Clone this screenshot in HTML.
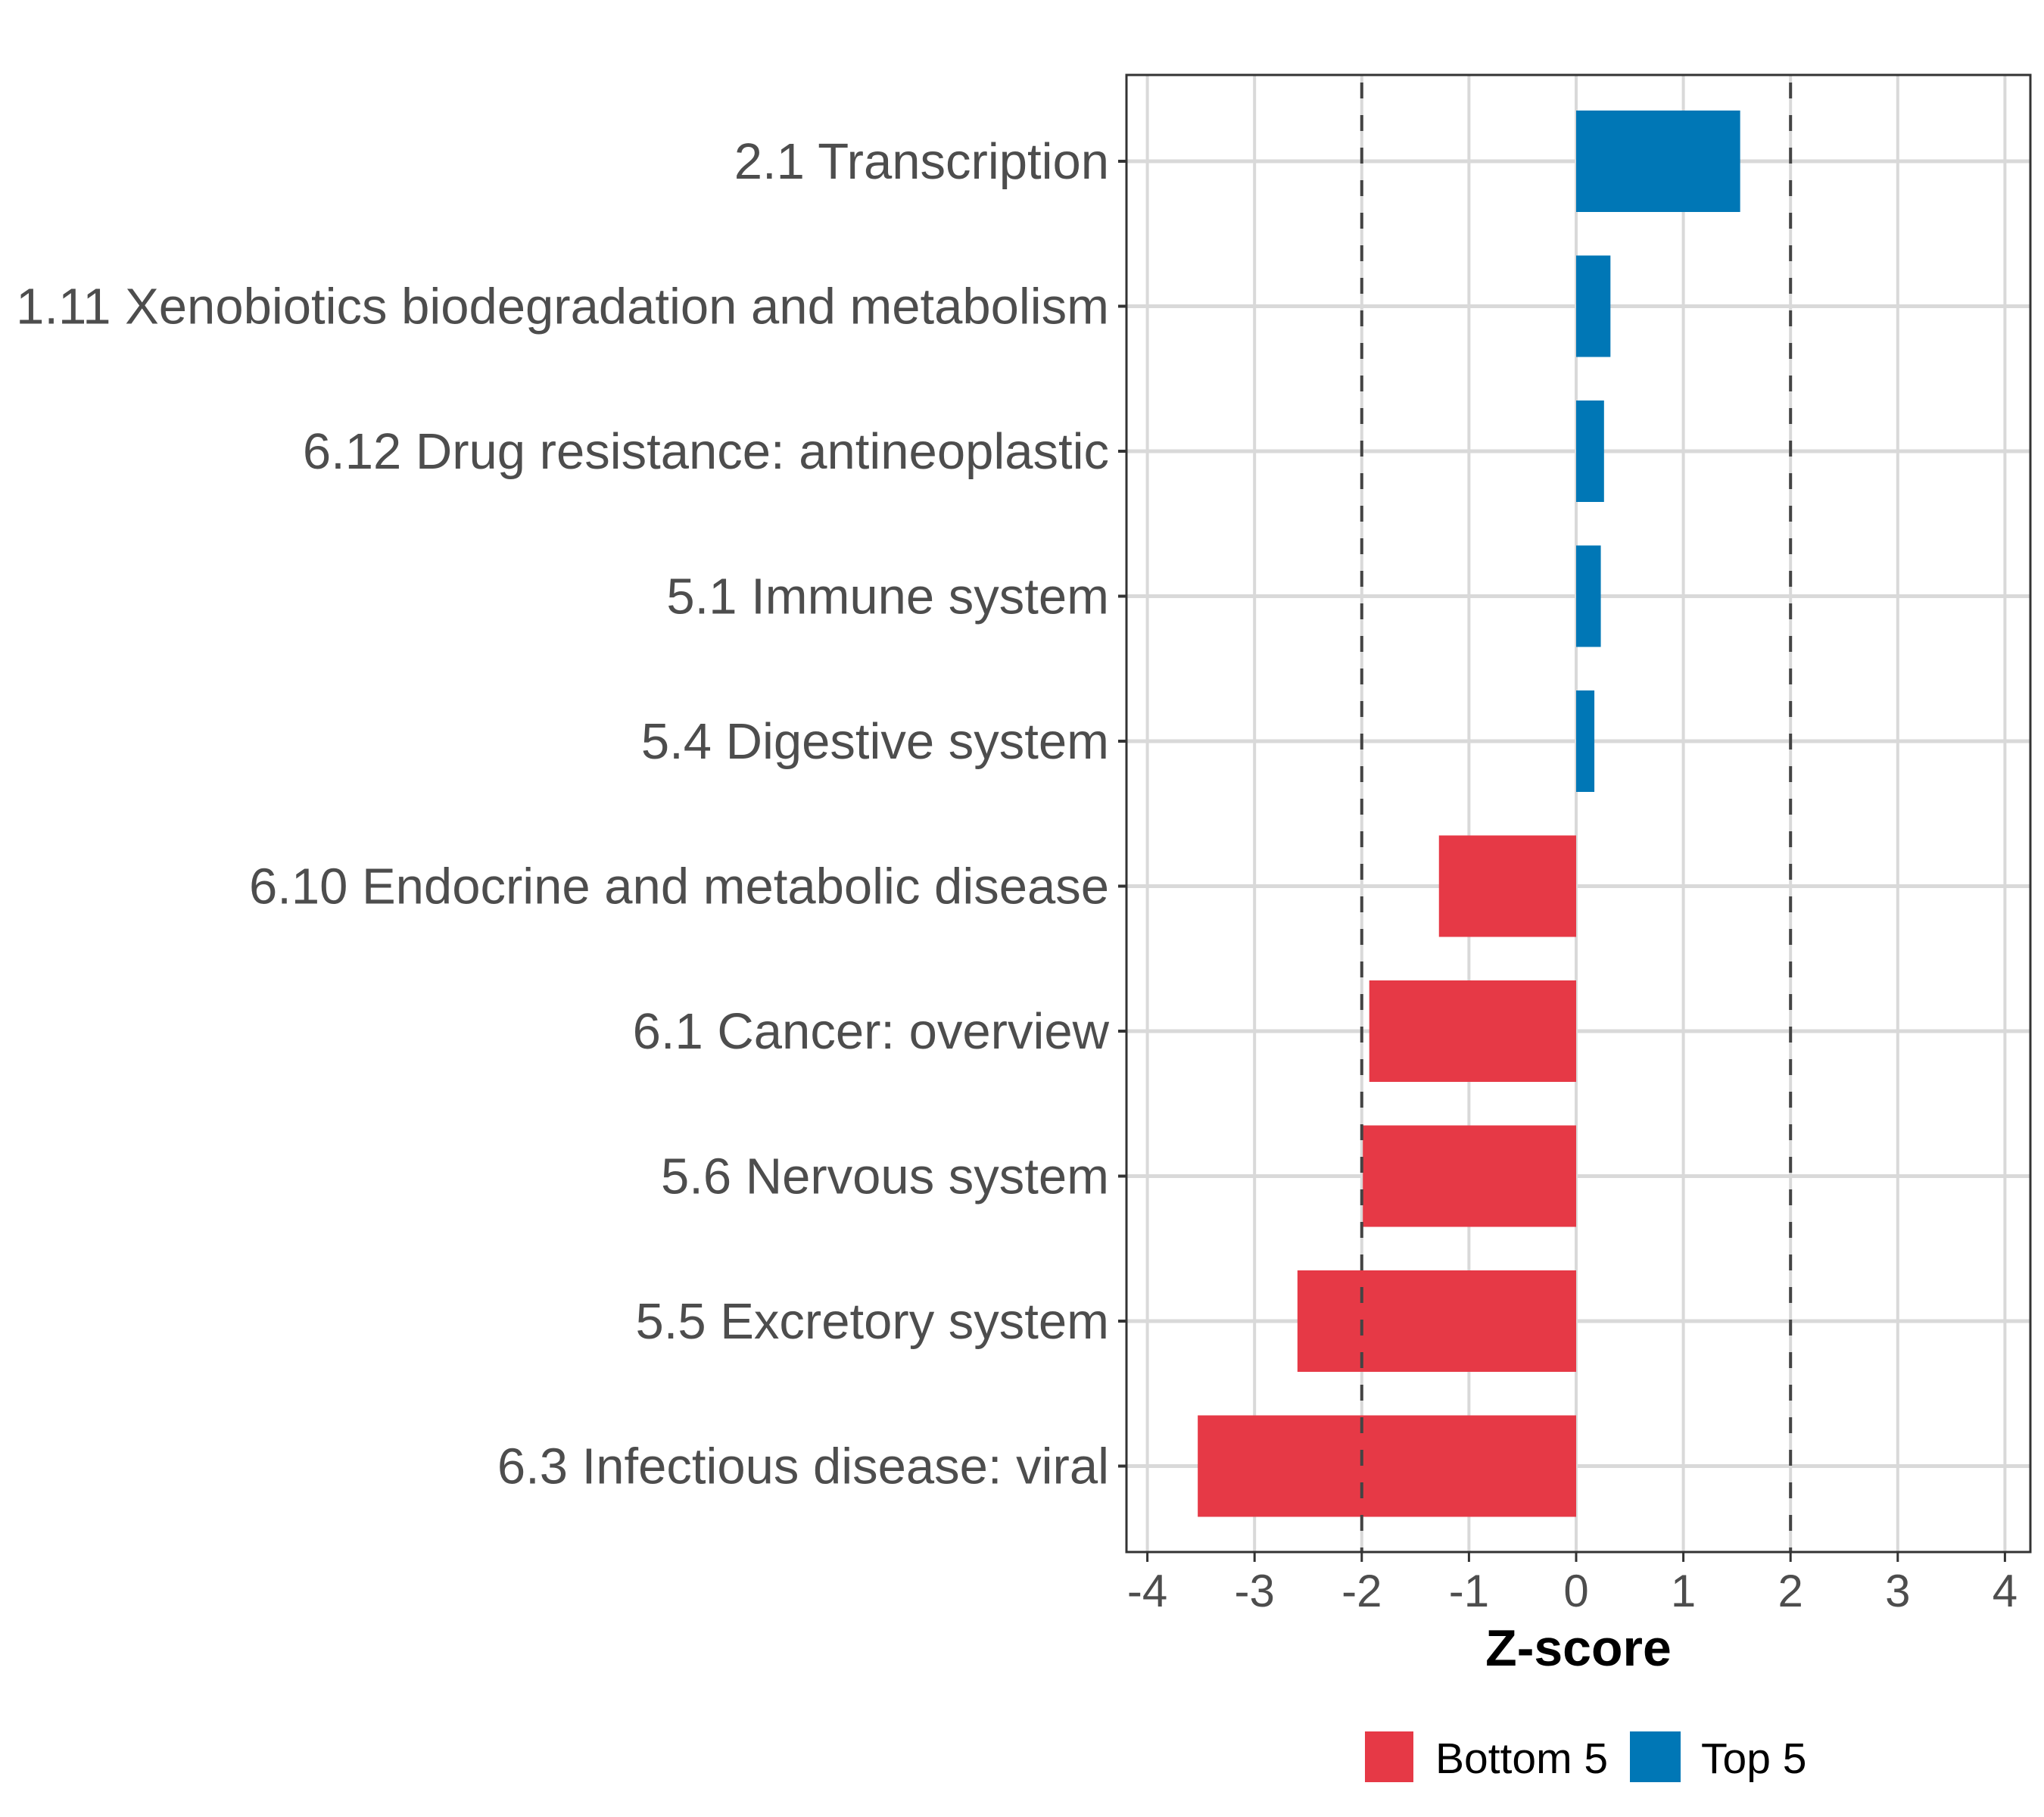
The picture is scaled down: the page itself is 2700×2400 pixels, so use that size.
<!DOCTYPE html>
<html><head><meta charset="utf-8"><style>
body{margin:0;background:#fff}
svg{display:block;font-family:"Liberation Sans",Arial,sans-serif}
</style></head><body>
<svg id="chart" width="2700" height="2400" viewBox="0 0 2700 2400" xmlns="http://www.w3.org/2000/svg">
<rect width="2700" height="2400" fill="#fff"/>
<g id="grid"></g>
<g id="bars"></g>
<g id="refs"></g>
<rect x="1488" y="99" width="1194" height="1951" fill="none" stroke="#333" stroke-width="3"/>
<g id="xaxis"></g>
<g id="yaxis"></g>
<text x="2085" y="2200" font-size="68" font-weight="bold" text-anchor="middle" fill="#000">Z-score</text>
<g>
<rect x="1803" y="2287" width="64" height="67" fill="#E63946"/>
<text x="1896" y="2342" font-size="57" fill="#000">Bottom 5</text>
<rect x="2153" y="2287" width="67" height="67" fill="#0077B6"/>
<text x="2247" y="2342" font-size="57" fill="#000">Top 5</text>
</g>
</svg>
<script>
const categories = ["2.1 Transcription","1.11 Xenobiotics biodegradation and metabolism","6.12 Drug resistance: antineoplastic","5.1 Immune system","5.4 Digestive system","6.10 Endocrine and metabolic disease","6.1 Cancer: overview","5.6 Nervous system","5.5 Excretory system","6.3 Infectious disease: viral"];
const zscores = [1.53,0.32,0.26,0.23,0.17,-1.28,-1.93,-1.99,-2.6,-3.53];
const groups = ["Top 5","Top 5","Top 5","Top 5","Top 5","Bottom 5","Bottom 5","Bottom 5","Bottom 5","Bottom 5"];
const xTicks = [-4,-3,-2,-1,0,1,2,3,4];
const thresholds = [-2,2];

const NS="http://www.w3.org/2000/svg";
const X0=1488,X1=2682,Y0=99,Y1=2050;
function xs(v){return 2082+v*141.6;}
function ys(i){return 213+i*191.5;}
const bandH=134;
function mk(tag,attrs,parent){const e=document.createElementNS(NS,tag);for(const k in attrs)e.setAttribute(k,attrs[k]);parent.appendChild(e);return e;}
const grid=document.getElementById('grid'),bars=document.getElementById('bars'),refs=document.getElementById('refs'),xa=document.getElementById('xaxis'),ya=document.getElementById('yaxis');
xTicks.forEach(t=>{
  const l=mk('line',{x1:xs(t),x2:xs(t),y1:Y0,y2:Y1,stroke:'#d9d9d9','stroke-width':4},grid);
  
  
  const tk=mk('line',{x1:xs(t),x2:xs(t),y1:Y1,y2:Y1+13,stroke:'#333','stroke-width':3},xa);
  
  
  const tx=mk('text',{x:xs(t),y:2122,'font-size':60,'text-anchor':'middle',fill:'#4d4d4d'},xa);
  tx.textContent=String(t);
  
  
});
categories.forEach((c,i)=>{
  const g=mk('line',{x1:X0,x2:X1,y1:ys(i),y2:ys(i),stroke:'#d9d9d9','stroke-width':5},grid);
  
  
  const v=zscores[i];
  const b=mk('rect',{x:Math.min(xs(0),xs(v)),y:ys(i)-bandH/2,width:Math.abs(xs(v)-xs(0)),height:bandH,fill:groups[i]==='Top 5'?'#0077B6':'#E63946'},bars);
  
  
  const tk=mk('line',{x1:X0-11,x2:X0,y1:ys(i),y2:ys(i),stroke:'#333','stroke-width':4},ya);
  
  
  const tx=mk('text',{x:1465,y:ys(i)+23,'font-size':67,'text-anchor':'end',fill:'#4d4d4d'},ya);
  tx.textContent=c;
  
  
});
thresholds.forEach(t=>{
  const l=mk('line',{x1:xs(t),x2:xs(t),y1:Y0,y2:Y1,stroke:'#444','stroke-width':4,'stroke-dasharray':'21 22','stroke-dashoffset':'-10'},refs);
  
  
});
</script>
</body></html>
